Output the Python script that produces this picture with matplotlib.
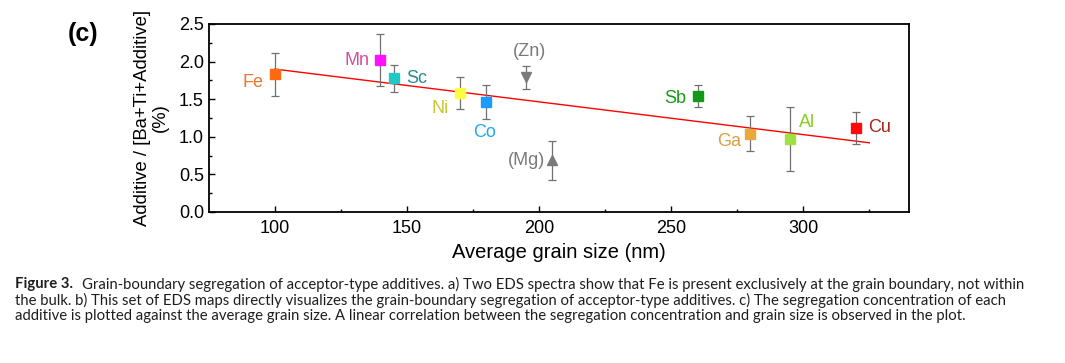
import matplotlib
matplotlib.use("Agg")
import matplotlib.pyplot as plt

# grain size (nm), segregation concentration (%), error
elements = ["Fe", "Mn", "Sc", "Ni", "Co", "(Zn)", "(Mg)", "Sb", "Ga", "Al", "Cu"]
grain_size = [100, 140, 145, 170, 180, 195, 205, 260, 280, 295, 320]
conc = [1.83, 2.02, 1.78, 1.58, 1.46, 1.79, 0.69, 1.54, 1.04, 0.97, 1.12]
conc_err = [0.29, 0.34, 0.18, 0.21, 0.23, 0.15, 0.26, 0.15, 0.23, 0.42, 0.21]
markers = ["s", "s", "s", "s", "s", "v", "^", "s", "s", "s", "s"]
marker_colors = ["#ff6a10", "#ff10ff", "#20c8c8", "#ffff40", "#1a9cff", "#7a7a7a",
                 "#7a7a7a", "#119a19", "#eaa83a", "#a0e040", "#ff0a0a"]
label_colors = ["#e8762c", "#d0509a", "#2a8c8c", "#c8c830", "#20a8ec", "#7a7a7a",
                "#7a7a7a", "#179a17", "#d8a040", "#88cc22", "#a82418"]
# label offsets in pixels from each point
label_offsets = [(-22, -8), (-23, 0), (23, 0), (-20, -15), (-2, -30), (4, 26),
                 (-26, 0), (-22, -2), (-21, -8), (17, 17), (23, 0)]

# linear fit endpoints
fit_x = [100, 325]
fit_y = [1.90, 0.92]

caption_bold = "Figure 3."
caption_lines = [
    "Grain-boundary segregation of acceptor-type additives. a) Two EDS spectra show that Fe is present exclusively at the grain boundary, not within",
    "the bulk. b) This set of EDS maps directly visualizes the grain-boundary segregation of acceptor-type additives. c) The segregation concentration of each",
    "additive is plotted against the average grain size. A linear correlation between the segregation concentration and grain size is observed in the plot.",
]

plt.rcParams['font.family'] = ['Liberation Sans', 'DejaVu Sans']

fig = plt.figure(figsize=(10.65, 3.63), dpi=100)
ax = fig.add_axes([0.196, 0.416, 0.6575, 0.518])

ax.plot(fit_x, fit_y, color="red", lw=1.0, zorder=1)

for i in range(len(elements)):
    ax.errorbar(grain_size[i], conc[i], yerr=conc_err[i], fmt="none",
                ecolor="#707070", elinewidth=0.9, capsize=3, capthick=0.9, zorder=2)
    ax.plot(grain_size[i], conc[i], marker=markers[i], color=marker_colors[i],
            markersize=6.5, linestyle="none", zorder=3)
    ax.annotate(elements[i], (grain_size[i], conc[i]), xytext=label_offsets[i],
                textcoords="offset pixels", ha="center", va="center",
                fontsize=13, color=label_colors[i])

ax.set_xlim(75, 340)
ax.set_ylim(0, 2.5)
ax.set_xticks([100, 150, 200, 250, 300])
ax.set_xticks([125, 175, 225, 275, 325], minor=True)
ax.set_yticks([0.0, 0.5, 1.0, 1.5, 2.0, 2.5])
ax.set_yticks([0.25, 0.75, 1.25, 1.75, 2.25], minor=True)
ax.yaxis.set_major_formatter(matplotlib.ticker.FormatStrFormatter("%.1f"))
ax.tick_params(which="both", direction="in", labelsize=13, width=1)
ax.tick_params(which="major", length=4)
ax.tick_params(which="minor", length=2.5)
ax.tick_params(axis="x", pad=6)
for s in ax.spines.values():
    s.set_linewidth(1.3)

ax.set_xlabel("Average grain size (nm)", fontsize=14.5, labelpad=4)
ax.set_ylabel("Additive / [Ba+Ti+Additive]\n(%)", fontsize=13.3, labelpad=7,
              linespacing=1.05)

fig.text(0.064, 0.905, "(c)", fontsize=18, fontweight="bold", va="center")

# caption
cap_font = ['Lato', 'DejaVu Sans']
cap_size = 10.75
x0 = 15 / 1065
ys = [1 - 284 / 363, 1 - 300 / 363, 1 - 316 / 363]
t = fig.text(x0, ys[0], caption_bold, fontsize=cap_size, fontweight="bold",
             family=cap_font, va="center", color="#1e1e1e")
fig.canvas.draw()
bb = t.get_window_extent()
fig.text((bb.x1 + 9) / 1065, ys[0], caption_lines[0], fontsize=cap_size,
         family=cap_font, va="center", color="#1e1e1e")
fig.text(x0, ys[1], caption_lines[1], fontsize=cap_size, family=cap_font,
         va="center", color="#1e1e1e")
fig.text(x0, ys[2], caption_lines[2], fontsize=cap_size, family=cap_font,
         va="center", color="#1e1e1e")

fig.savefig("out.png", dpi=100)
